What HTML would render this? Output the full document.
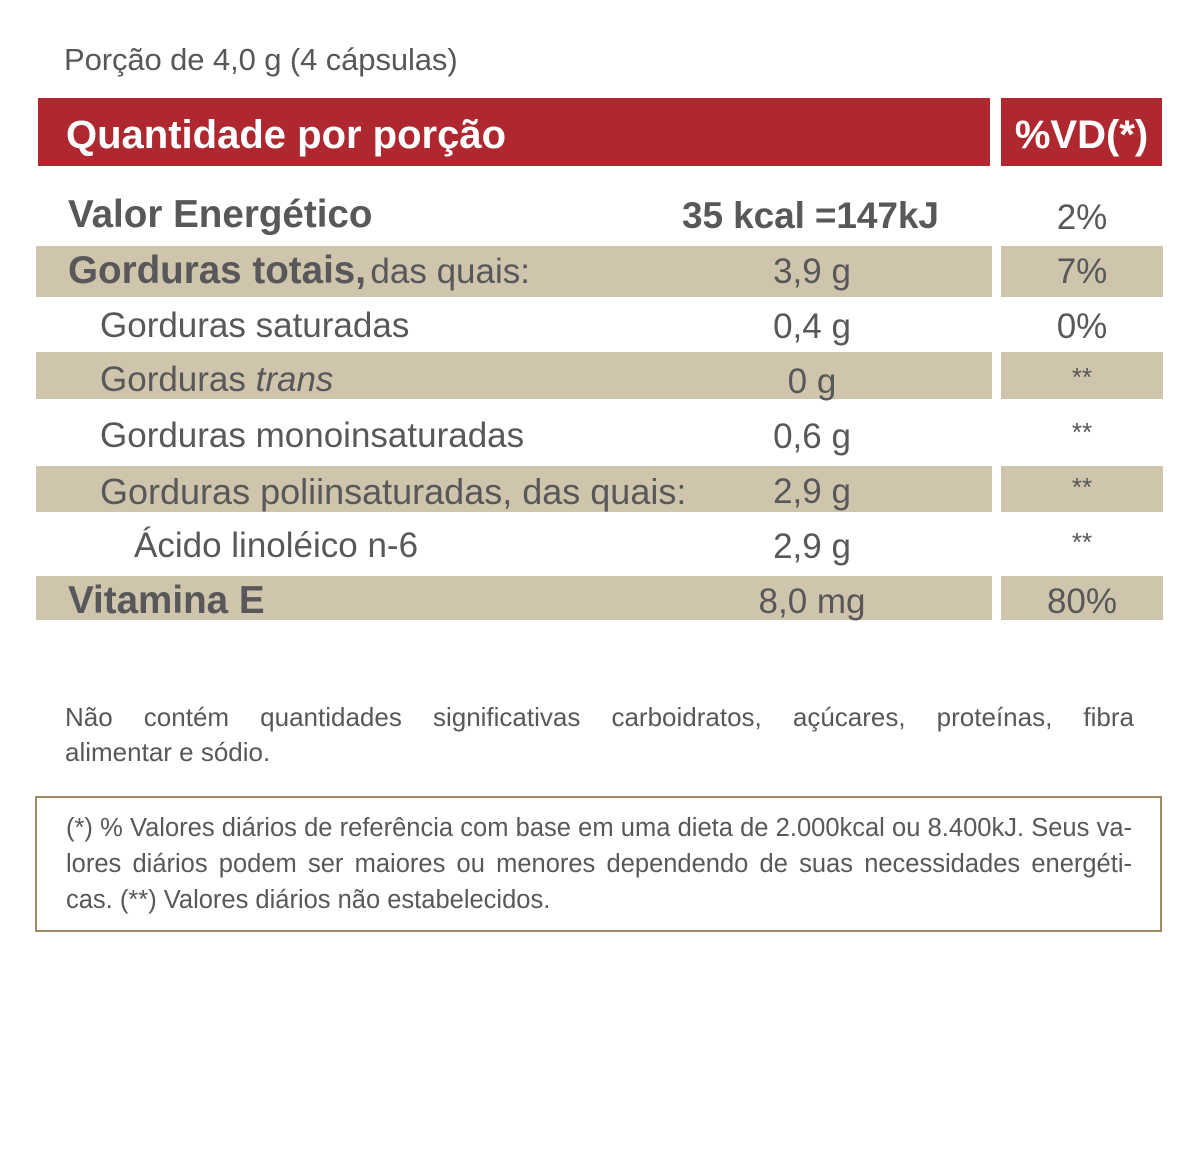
<!DOCTYPE html>
<html><head><meta charset="utf-8"><style>
body{margin:0;width:1200px;height:1175px;background:#fff;position:relative;font-family:"Liberation Sans",sans-serif;color:#58585a;overflow:hidden}
.a{position:absolute;white-space:nowrap}
.red{position:absolute;background:#b0282f}
.tan{position:absolute;background:#cfc5ac}
.b{font-weight:bold}
.n{font-size:35px}
.c{text-align:center}
</style></head><body>
<div class="a" style="left:64px;top:42px;font-size:31px;letter-spacing:-0.1px">Porção de 4,0 g (4 cápsulas)</div>
<div class="red" style="left:38px;top:98px;width:952px;height:68px"></div>
<div class="red" style="left:1001px;top:98px;width:161px;height:68px"></div>
<div class="a b" style="left:66px;top:113px;font-size:40px;color:#fff">Quantidade por porção</div>
<div class="a b" style="left:1001px;width:161px;top:113px;font-size:40px;color:#fff;text-align:center">%VD(*)</div>

<div class="tan" style="left:36px;top:246px;width:956px;height:51px"></div>
<div class="tan" style="left:1001px;top:246px;width:162px;height:51px"></div>
<div class="tan" style="left:36px;top:352px;width:956px;height:47px"></div>
<div class="tan" style="left:1001px;top:352px;width:162px;height:47px"></div>
<div class="tan" style="left:36px;top:466px;width:956px;height:46px"></div>
<div class="tan" style="left:1001px;top:466px;width:162px;height:46px"></div>
<div class="tan" style="left:36px;top:576px;width:956px;height:44px"></div>
<div class="tan" style="left:1001px;top:576px;width:162px;height:44px"></div>

<div class="a b" style="left:68px;top:193px;font-size:38.6px">Valor Energético</div>
<div class="a b" style="left:682px;top:195px;font-size:37px;letter-spacing:-0.1px">35 kcal =147kJ</div>
<div class="a n c" style="left:1001px;width:162px;top:198px">2%</div>

<div class="a" style="left:68px;top:249px"><span class="b" style="font-size:38.6px">Gorduras totais,</span> <span class="n">das quais:</span></div>
<div class="a n c" style="left:712px;width:200px;top:252px">3,9 g</div>
<div class="a n c" style="left:1001px;width:162px;top:252px">7%</div>

<div class="a n" style="left:100px;top:306px">Gorduras saturadas</div>
<div class="a n c" style="left:712px;width:200px;top:307px">0,4 g</div>
<div class="a n c" style="left:1001px;width:162px;top:307px">0%</div>

<div class="a n" style="left:100px;top:360px">Gorduras <i>trans</i></div>
<div class="a n c" style="left:712px;width:200px;top:362px">0 g</div>
<div class="a c" style="left:1001px;width:162px;top:362px;font-size:26px">**</div>

<div class="a n" style="left:100px;top:416px">Gorduras monoinsaturadas</div>
<div class="a n c" style="left:712px;width:200px;top:417px">0,6 g</div>
<div class="a c" style="left:1001px;width:162px;top:417px;font-size:26px">**</div>

<div class="a n" style="left:100px;top:471px;font-size:36px">Gorduras poliinsaturadas, das quais:</div>
<div class="a n c" style="left:712px;width:200px;top:472px">2,9 g</div>
<div class="a c" style="left:1001px;width:162px;top:472px;font-size:26px">**</div>

<div class="a n" style="left:134px;top:526px">Ácido linoléico n-6</div>
<div class="a n c" style="left:712px;width:200px;top:527px">2,9 g</div>
<div class="a c" style="left:1001px;width:162px;top:527px;font-size:26px">**</div>

<div class="a b" style="left:68px;top:579px;font-size:38.6px">Vitamina E</div>
<div class="a n c" style="left:712px;width:200px;top:582px">8,0 mg</div>
<div class="a n c" style="left:1001px;width:162px;top:582px">80%</div>

<div class="a" style="left:65px;top:700px;width:1069px;font-size:26px;text-align:justify;text-align-last:justify;white-space:normal;line-height:35px">Não contém quantidades significativas carboidratos, açúcares, proteínas, fibra</div>
<div class="a" style="left:65px;top:735px;font-size:26px;line-height:35px">alimentar e sódio.</div>

<div style="position:absolute;left:35px;top:796px;width:1123px;height:132px;border:2px solid #a08c64"></div>
<div class="a" style="left:66px;top:810px;width:1066px;font-size:25.5px;line-height:36px;white-space:normal;letter-spacing:0px">
<div style="text-align:justify;text-align-last:justify">(*) % Valores diários de referência com base em uma dieta de 2.000kcal ou 8.400kJ. Seus va-</div>
<div style="text-align:justify;text-align-last:justify">lores diários podem ser maiores ou menores dependendo de suas necessidades energéti-</div>
<div>cas. (**) Valores diários não estabelecidos.</div></div>
</body></html>
